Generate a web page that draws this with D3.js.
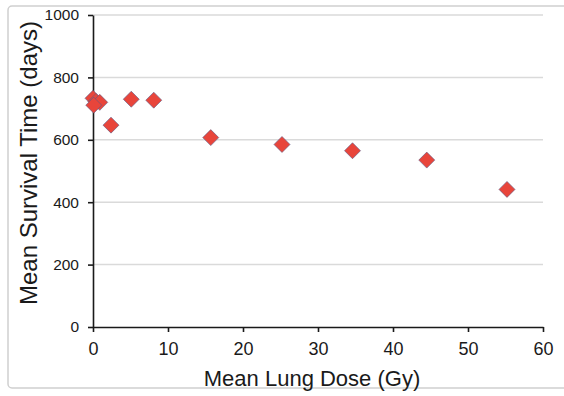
<!DOCTYPE html>
<html>
<head>
<meta charset="utf-8">
<script src="https://cdn.jsdelivr.net/npm/d3@7"></script>
<style>
  html, body { margin: 0; padding: 0; background: #fff; }
  svg { display: block; font-family: "Liberation Sans", Arial, Helvetica, sans-serif; }
</style>
</head>
<body>
<svg id="chart" width="564" height="396"></svg>
<script>
// Mean lung dose (Gy) vs. mean survival time (days)
const doseGy = [0, 0.4, 0.9, 0.1, 2.4, 5.1, 8.1, 15.7, 25.2, 34.6, 44.5, 55.2];
const survivalDays = [733, 723, 720, 711, 647, 730, 727, 607, 585, 565, 535, 441];
const xTicks = [0, 10, 20, 30, 40, 50, 60];
const yTicks = [0, 200, 400, 600, 800, 1000];
const xTitle = "Mean Lung Dose (Gy)";
const yTitle = "Mean Survival Time (days)";

const svg = d3.select("#chart");
const W = 564, H = 396;
const m = { left: 93, right: 21, top: 15, bottom: 69 };

const x = d3.scaleLinear().domain([0, 60]).range([m.left, W - m.right]);
const y = d3.scaleLinear().domain([0, 1000]).range([H - m.bottom, m.top]);

// outer frame
svg.append("rect")
  .attr("x", 8).attr("y", 6)
  .attr("width", 600).attr("height", 382)
  .attr("rx", 4)
  .attr("fill", "none")
  .attr("stroke", "#cfcfcf")
  .attr("stroke-width", 1.5);

// horizontal gridlines
svg.append("g")
  .selectAll("line")
  .data(yTicks.filter(d => d > 0))
  .join("line")
  .attr("x1", x(0)).attr("x2", x(60))
  .attr("y1", d => y(d)).attr("y2", d => y(d))
  .attr("stroke", "#dadada")
  .attr("stroke-width", 1.5);

// axes
const xAxis = svg.append("g")
  .attr("transform", `translate(0,${y(0)})`)
  .call(d3.axisBottom(x).tickValues(xTicks).tickFormat(d3.format("d"))
    .tickSize(5).tickPadding(10).tickSizeOuter(0));
const yAxis = svg.append("g")
  .attr("transform", `translate(${x(0)},0)`)
  .call(d3.axisLeft(y).tickValues(yTicks).tickFormat(d3.format("d"))
    .tickSize(5).tickPadding(9).tickSizeOuter(0));

[xAxis, yAxis].forEach(g => {
  g.attr("font-family", "Liberation Sans, Arial, sans-serif");
  g.select(".domain").attr("stroke", "#1a1a1a").attr("stroke-width", 1.6);
  g.selectAll(".tick line").attr("stroke", "#1a1a1a").attr("stroke-width", 1.6);
  g.selectAll(".tick text").attr("fill", "#1a1a1a");
});
xAxis.attr("font-size", 18);
yAxis.attr("font-size", 15.5);

// axis titles
svg.append("text")
  .attr("x", 312).attr("y", 386)
  .attr("text-anchor", "middle")
  .attr("font-size", 22)
  .attr("fill", "#1a1a1a")
  .text(xTitle);

svg.append("text")
  .attr("transform", "translate(37,163) rotate(-90)")
  .attr("text-anchor", "middle")
  .attr("font-size", 24)
  .attr("fill", "#1a1a1a")
  .text(yTitle);

// soft edge around the markers
const defs = svg.append("defs");
const f = defs.append("filter").attr("id", "soft")
  .attr("x", "-30%").attr("y", "-30%").attr("width", "160%").attr("height", "160%");
f.append("feGaussianBlur").attr("stdDeviation", 0.5);

// diamond markers
const r = 8;
svg.append("g")
  .selectAll("path")
  .data(doseGy.map((d, i) => [d, survivalDays[i]]))
  .join("path")
  .attr("transform", d => `translate(${x(d[0])},${y(d[1])})`)
  .attr("d", `M0,${-r}L${r},0L0,${r}L${-r},0Z`)
  .attr("fill", "#e8443a")
  .attr("stroke", "#5b5a86")
  .attr("stroke-opacity", 0.6)
  .attr("stroke-width", 1)
  .attr("filter", "url(#soft)");
</script>
</body>
</html>
